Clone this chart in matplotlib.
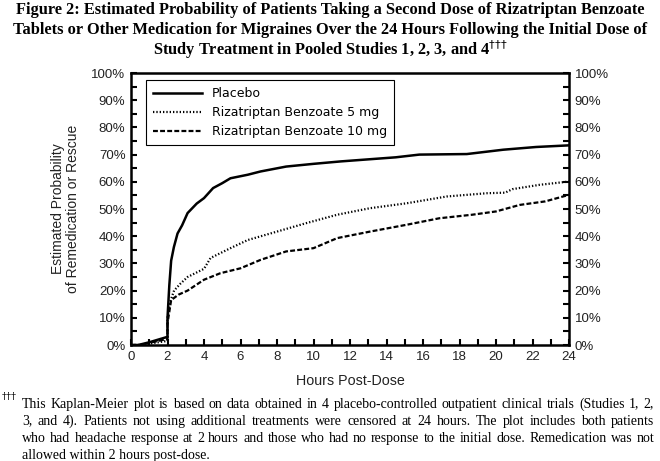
import matplotlib
matplotlib.use("Agg")
import matplotlib.pyplot as plt
import numpy as np

# Data (hours, probability %)
placebo_x = [0.0, 0.4, 1.0, 1.5, 2.0, 2.0, 2.1, 2.2, 2.35, 2.55, 2.8, 3.1, 3.6, 4.0, 4.5, 5.0, 5.45, 6.4, 7.1, 8.5, 10.0, 11.5, 13.1, 14.5, 15.8, 18.4, 20.4, 22.2, 24.0]
placebo_y = [0.0, 0.0, 1.0, 2.0, 3.0, 10.0, 22.0, 31.0, 36.0, 41.0, 44.0, 48.5, 52.0, 54.0, 57.7, 59.5, 61.3, 62.6, 63.8, 65.6, 66.6, 67.5, 68.3, 69.0, 70.0, 70.2, 71.8, 72.8, 73.4]

rz5_x = [0.0, 0.5, 1.0, 1.5, 2.0, 2.0, 2.15, 2.36, 2.7, 3.1, 4.0, 4.36, 5.45, 6.4, 8.0, 9.6, 11.3, 13.1, 15.1, 17.3, 19.5, 20.5, 20.9, 22.4, 24.0]
rz5_y = [0.0, 0.0, 0.5, 1.0, 1.5, 10.0, 16.0, 20.0, 22.5, 25.0, 28.0, 32.0, 35.6, 38.6, 41.7, 44.8, 47.9, 50.3, 52.1, 54.6, 55.8, 56.0, 57.3, 58.9, 60.1]

rz10_x = [0.0, 0.5, 1.0, 1.5, 2.0, 2.0, 2.2, 2.6, 3.1, 4.0, 4.9, 6.0, 7.1, 8.5, 10.0, 11.3, 13.1, 15.1, 16.9, 18.7, 20.0, 21.3, 22.7, 24.0]
rz10_y = [0.0, 0.0, 0.8, 1.5, 2.2, 8.0, 16.5, 18.5, 20.0, 24.0, 26.4, 28.2, 31.3, 34.4, 35.6, 39.3, 41.7, 44.2, 46.6, 47.9, 49.1, 51.5, 52.8, 55.2]

series_labels = ["Placebo", "Rizatriptan Benzoate 5 mg", "Rizatriptan Benzoate 10 mg"]
x_ticks = list(range(0, 25, 2))
y_ticks = list(range(0, 101, 10))

title_lines = [
    "Figure 2: Estimated Probability of Patients Taking a Second Dose of Rizatriptan Benzoate",
    "Tablets or Other Medication for Migraines Over the 24 Hours Following the Initial Dose of",
    "Study Treatment in Pooled Studies 1, 2, 3, and 4$^{\u2020\u2020\u2020}$",
]
foot_lines = [
    "This Kaplan-Meier plot is based on data obtained in 4 placebo-controlled outpatient clinical trials (Studies 1, 2,",
    "3, and 4). Patients not using additional treatments were censored at 24 hours. The plot includes both patients",
    "who had headache response at 2 hours and those who had no response to the initial dose. Remedication was not",
    "allowed within 2 hours post-dose.",
]

W, H = 660, 461
fig = plt.figure(figsize=(W / 100, H / 100), dpi=100)
fig.patch.set_facecolor("white")

left, right, top, bottom = 131, 569, 73, 345
ax = fig.add_axes([left / W, 1 - bottom / H, (right - left) / W, (bottom - top) / H])

ax.plot(placebo_x, placebo_y, color="black", lw=1.8, label=series_labels[0])
ax.plot(rz5_x, rz5_y, color="black", lw=1.6, linestyle=(0, (0.6, 0.9)), label=series_labels[1])
ax.plot(rz10_x, rz10_y, color="black", lw=1.6, linestyle=(0, (2.2, 1.0)), label=series_labels[2])

ax.set_xlim(0, 24)
ax.set_ylim(0, 100)
for s in ax.spines.values():
    s.set_linewidth(1.8)

ax.set_xticks(x_ticks)
ax.set_xticks(range(0, 25, 1), minor=True)
ax.set_yticks(y_ticks)
ax.set_yticks(range(0, 101, 5), minor=True)
ax.set_yticklabels([f"{v}%" for v in y_ticks])
ax.tick_params(axis="both", which="both", direction="in", length=4, width=1.5,
               labelsize=9.5, pad=4)
ax.tick_params(axis="y", which="both", left=True, right=True, labelleft=True, labelright=True)
ax.tick_params(axis="x", which="both", top=False)
for lab in ax.get_xticklabels() + ax.get_yticklabels():
    lab.set_fontfamily("Liberation Sans")
    lab.set_color("#222222")

ax.set_xlabel("Hours Post-Dose", fontsize=10.3, family="Liberation Sans", labelpad=8, color="#222222")
ax.set_ylabel("Estimated Probability\nof Remedication or Rescue", fontsize=10,
              family="Liberation Sans", labelpad=8, linespacing=1.15, color="#222222")

leg = ax.legend(loc="upper left", bbox_to_anchor=(15 / 438, 1 - 7 / 272), borderaxespad=0,
                frameon=True, fancybox=False,
                edgecolor="black", framealpha=1, prop={"family": "DejaVu Sans", "size": 9},
                handlelength=3.9, borderpad=0.55, labelspacing=0.5, handletextpad=0.8)
leg.get_frame().set_linewidth(0.8)

for i, t in enumerate(title_lines):
    fig.text(0.5, 1 - (10 + 20 * i) / H, t, ha="center", va="center",
             family="Liberation Serif", weight="bold", fontsize=11.8)

fig.text(2 / W, 1 - 396 / H, "\u2020\u2020\u2020", ha="left", va="center",
         family="DejaVu Serif", fontsize=7)

# justified footnote
fig.canvas.draw()
renderer = fig.canvas.get_renderer()
x0, x1 = 22, 654
for i, t in enumerate(foot_lines):
    y = 1 - (404 + 17 * i) / H
    words = t.split(" ")
    if i == len(foot_lines) - 1:
        fig.text(x0 / W, y, t, ha="left", va="center", family="Liberation Serif", fontsize=10)
        continue
    arts = [fig.text(0, y, w_, ha="left", va="center", family="Liberation Serif", fontsize=10)
            for w_ in words]
    widths = [a.get_window_extent(renderer).width for a in arts]
    gap = (x1 - x0 - sum(widths)) / (len(words) - 1)
    xx = x0
    for a, wd in zip(arts, widths):
        a.set_x(xx / W)
        xx += wd + gap

fig.savefig("out.png", dpi=100, facecolor="white")
